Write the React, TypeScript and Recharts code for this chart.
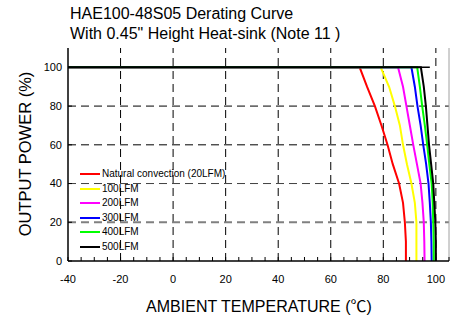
import { LineChart, Line, XAxis, YAxis, ReferenceLine, ReferenceArea } from "recharts";

const titleLines = ["HAE100-48S05 Derating Curve", 'With 0.45" Height Heat-sink (Note 11 )'];
const xAxisTitle = "AMBIENT TEMPERATURE (\u2103)";
const yAxisTitle = "OUTPUT POWER (%)";

const seriesNames = ["Natural convection (20LFM)", "100LFM", "200LFM", "300LFM", "400LFM", "500LFM"];
// output power (%) at each read point, shared by all curves
const powerSteps = [100, 100, 90, 80, 70, 60, 50, 40, 30, 20, 10, 0];
// ambient temperature (C) where each curve crosses the power steps above
const tempNatural = [-40, 71, 73.8, 76.8, 79.3, 81.6, 83.6, 86, 87.5, 88.2, 88.6, 88.6];
const temp100 = [-40, 79, 82.2, 84.4, 86.3, 87.5, 89, 90.7, 92, 92.6, 92.6, 92.6];
const temp200 = [-40, 85.6, 87.5, 88.8, 90.1, 91.4, 92.8, 94.2, 94.9, 95.4, 95.6, 95.7];
const temp300 = [-40, 90.7, 92, 93, 94.2, 95.2, 96.3, 97.2, 97.7, 98.1, 98.3, 98.4];
const temp400 = [-40, 92.9, 93.9, 94.8, 95.8, 96.7, 97.5, 98.4, 98.8, 99, 99.2, 99.2];
const temp500 = [-40, 94.3, 95.4, 96.2, 96.8, 97.4, 98.2, 99, 99.4, 99.8, 100, 100];
const ratedLineEnd = 97.7;

const xLabelTicks = [-40, -20, 0, 20, 40, 60, 80, 100];
const xMinorTicks = [-40, -35, -30, -25, -20, -15, -10, -5, 0, 5, 10, 15, 20, 25, 30, 35, 40, 45, 50, 55, 60, 65, 70, 75, 80, 85, 90, 95, 100, 105];
const yTicks = [0, 20, 40, 60, 80, 100];
const xGrid = [-20, 0, 20, 40, 60, 80, 100];
const yGrid = [20, 40, 60, 80];
// blank box behind the legend, in data units
const legendBoxX = [-40, 23.8];
const legendBoxY = [0, 49.5];

const colors = ["#ff0000", "#ffff00", "#ff00ff", "#0000ff", "#00ff00", "#000000"];
const FONT = '"Liberation Sans", Arial, "Noto Sans CJK SC", sans-serif';

const temps = [tempNatural, temp100, temp200, temp300, temp400, temp500];
const series = seriesNames.map((name, i) => ({
  name,
  color: colors[i],
  points: temps[i].map((t, j) => ({ t, p: powerSteps[j] })),
}));

export default function App() {
  return (
    <div style={{ position: "relative", width: 462, height: 318, fontFamily: FONT, background: "#fff" }}>
      <style>{`body{margin:0}`}</style>
      <div style={{ position: "absolute", left: 70, top: 4, fontSize: 16, lineHeight: "19.5px", color: "#000" }}>
        {titleLines.map((l) => (
          <div key={l}>{l}</div>
        ))}
      </div>
      <LineChart width={462} height={318} margin={{ top: 48, right: 13, bottom: 27, left: 8 }}>
        {xGrid.map((x) => (
          <ReferenceLine key={"vx" + x} x={x} stroke="#000" strokeDasharray="8 5" strokeWidth={1} />
        ))}
        {yGrid.map((y) => (
          <ReferenceLine
            key={"hy" + y}
            y={y}
            stroke={y === 20 ? "#808080" : y === 40 ? "#404040" : "#000"}
            strokeDasharray="8 5"
            strokeWidth={y === 20 ? 2 : 1}
          />
        ))}
        <ReferenceArea
          x1={legendBoxX[0]}
          x2={legendBoxX[1]}
          y1={legendBoxY[0]}
          y2={legendBoxY[1]}
          fill="#fff"
          fillOpacity={1}
          stroke="none"
        />
        <ReferenceLine x={105} stroke="#a0a0a0" strokeWidth={1} />
        <XAxis
          type="number"
          dataKey="t"
          domain={[-40, 105]}
          ticks={xMinorTicks}
          interval={0}
          allowDataOverflow
          height={30}
          tickSize={-4}
          tickMargin={18}
          tickFormatter={(v) => (xLabelTicks.includes(Number(v)) ? String(v) : "")}
          tick={{ fill: "#000", fontSize: 11, fontFamily: FONT }}
          axisLine={{ stroke: "#000", strokeWidth: 1.5 }}
          tickLine={{ stroke: "#000" }}
        />
        <YAxis
          type="number"
          domain={[0, 110]}
          ticks={yTicks}
          interval={0}
          allowDataOverflow
          width={60}
          tickSize={-4}
          tickMargin={10}
          tick={{ fill: "#000", fontSize: 11, fontFamily: FONT }}
          axisLine={{ stroke: "#000", strokeWidth: 1.5 }}
          tickLine={{ stroke: "#000" }}
        />
        {series.map((s) => (
          <Line
            key={s.name}
            data={s.points}
            dataKey="p"
            name={s.name}
            type="linear"
            stroke={s.color}
            strokeWidth={2}
            dot={false}
            activeDot={false}
            isAnimationActive={false}
          />
        ))}
        <ReferenceLine
          segment={[
            { x: -40, y: 100 },
            { x: ratedLineEnd, y: 100 },
          ]}
          stroke="#000"
          strokeWidth={1.5}
        />
      </LineChart>
      <div style={{ position: "absolute", left: 80, top: 166.7, fontSize: 10, color: "#000" }}>
        {series.map((s) => (
          <div
            key={s.name}
            style={{ display: "flex", alignItems: "center", whiteSpace: "nowrap", height: 14.6, lineHeight: "10px" }}
          >
            <span style={{ display: "inline-block", width: 20, height: 2, background: s.color, marginRight: 2 }} />
            <span>{s.name}</span>
          </div>
        ))}
      </div>
      <div
        style={{
          position: "absolute",
          left: 25,
          top: 154,
          transform: "translate(-50%, -50%) rotate(-90deg)",
          fontSize: 16.5,
          whiteSpace: "nowrap",
          color: "#000",
        }}
      >
        {yAxisTitle}
      </div>
      <div
        style={{
          position: "absolute",
          left: 259,
          top: 305,
          transform: "translate(-50%, -50%)",
          fontSize: 16,
          whiteSpace: "nowrap",
          color: "#000",
        }}
      >
        {xAxisTitle}
      </div>
    </div>
  );
}
